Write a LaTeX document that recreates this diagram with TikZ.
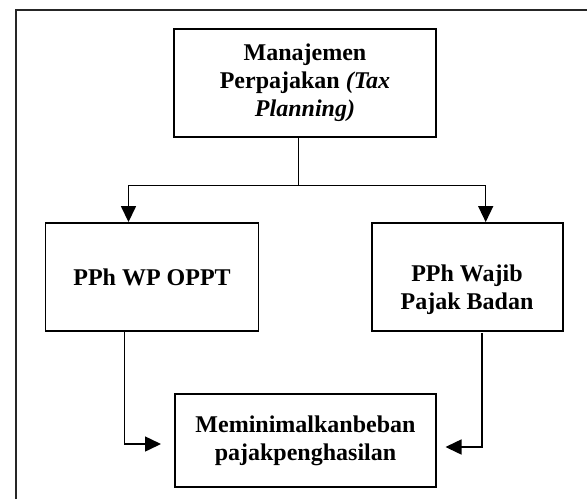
\documentclass[tikz,border=0pt]{standalone}
\usepackage{fontspec}
\setmainfont{Liberation Serif}
\usetikzlibrary{arrows.meta}
\begin{document}
\begin{tikzpicture}[x=1pt,y=-1pt,
  boxshape/.style={draw, line width=1.9pt, inner sep=0pt},
  txt/.style={font=\fontsize{24}{28}\selectfont\bfseries, align=center, inner sep=0pt},
  box/.style={boxshape, txt},
  conn/.style={line width=1.5pt},
  arr/.style={conn, -{Triangle[length=16pt,width=15pt]}}]
\useasboundingbox (0,0) rectangle (587,499);
% outer frame (only left and top edges visible)
\coordinate (o1) at (15.7,499);
\coordinate (o2) at (15.7,10);
\coordinate (o3) at (587,10);
\draw[line width=1.6pt, black!85] (o1) -- (o2) -- (o3);
% boxes
\node[box, minimum width=262pt, minimum height=108pt] (top) at (305,83)
  {Manajemen\\Perpajakan \textit{(Tax}\\\textit{Planning)}};
\node[box, minimum width=213pt, minimum height=108pt] (left) at (152,277)
  {PPh WP OPPT};
\node[boxshape, minimum width=191pt, minimum height=108pt] (right) at (467.5,277) {};
\node[txt] (righttext) at (467,290) {PPh Wajib\\Pajak Badan};
\node[box, minimum width=261pt, minimum height=93pt] (bottom) at (305.5,440.5)
  {Meminimalkanbeban\\pajakpenghasilan};
% connectors from top
\coordinate (j) at (298.5,185.5);
\coordinate (jl) at (128.5,185.5);
\coordinate (jr) at (485.7,185.5);
\draw[conn] (top.south -| j) -- (j);
\draw[arr] (j) -- (jl) -- (jl |- left.north);
\draw[arr] (j) -- (jr) -- (jr |- right.north);
% connectors to bottom
\coordinate (lb) at (124.7,331);
\coordinate (lt) at (161,444);
\coordinate (rb) at (482,333);
\coordinate (rt) at (445.5,447);
\draw[arr] (lb) -- (lb |- lt) -- (lt);
\draw[arr] (rb) -- (rb |- rt) -- (rt);
\end{tikzpicture}
\end{document}
